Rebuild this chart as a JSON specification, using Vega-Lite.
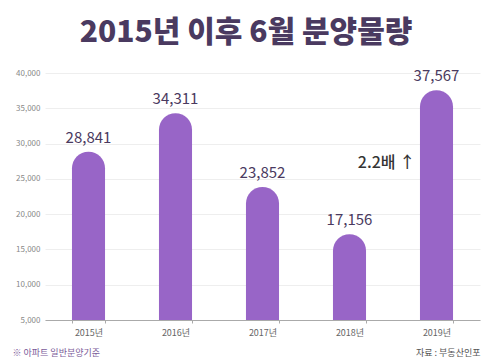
{
  "$schema": "https://vega.github.io/schema/vega-lite/v6.json",
  "autosize": "none",
  "width": 435,
  "height": 247,
  "padding": {"left": 45, "top": 73, "right": 20, "bottom": 43},
  "background": "white",
  "title": {
    "text": "2015년 이후 6월 분양물량",
    "font": "Noto Sans CJK KR",
    "fontSize": 30,
    "fontWeight": 900,
    "color": "#4a3a60",
    "anchor": "middle",
    "frame": "bounds",
    "offset": 21
  },
  "config": {
    "view": {"stroke": null},
    "font": "Noto Sans CJK KR"
  },
  "data": {
    "values": [
      {"year": "2015년", "v": 28841},
      {"year": "2016년", "v": 34311},
      {"year": "2017년", "v": 23852},
      {"year": "2018년", "v": 17156},
      {"year": "2019년", "v": 37567}
    ]
  },
  "encoding": {
    "x": {
      "field": "year",
      "type": "nominal",
      "sort": null,
      "scale": {"paddingInner": 0.62, "paddingOuter": 0.31},
      "axis": {
        "title": "※ 아파트 일반분양기준",
        "titleX": -33,
        "titleY": 32,
        "titleAlign": "left",
        "titleAnchor": "start",
        "titleBaseline": "middle",
        "titleFontSize": 9,
        "titleFontWeight": "normal",
        "titleColor": "#7a5b99",
        "labelAngle": 0,
        "labelFontSize": 9,
        "labelColor": "#666666",
        "labelPadding": 5,
        "domainColor": "#aaaaaa",
        "tickColor": "#aaaaaa",
        "tickSize": 3,
        "tickBand": "extent"
      }
    },
    "y": {
      "field": "v",
      "type": "quantitative",
      "scale": {"domain": [5000, 40000], "zero": false, "nice": false},
      "axis": {
        "values": [5000, 10000, 15000, 20000, 25000, 30000, 35000, 40000],
        "tickCount": 8,
        "format": ",d",
        "labelOverlap": false,
        "labelFontSize": 8,
        "labelColor": "#888888",
        "labelPadding": 5,
        "domain": false,
        "ticks": false,
        "gridColor": "#eeeeee",
        "title": "자료 : 부동산인포",
        "titleAngle": 0,
        "titleX": 435,
        "titleY": 279,
        "titleAlign": "right",
        "titleBaseline": "middle",
        "titleFontSize": 9,
        "titleFontWeight": "normal",
        "titleColor": "#555555"
      }
    }
  },
  "layer": [
    {
      "mark": {"type": "bar", "color": "#9865c7", "cornerRadiusTopLeft": 16.5, "cornerRadiusTopRight": 16.5},
      "encoding": {
        "y2": {"datum": 5000}
      }
    },
    {
      "mark": {"type": "text", "dy": -14, "fontSize": 15, "color": "#4a3a60", "baseline": "middle"},
      "encoding": {
        "text": {"field": "v", "type": "quantitative", "format": ",d"}
      }
    },
    {
      "data": {"values": [{"year": "2019년", "v": 27200, "label": "2.2배 ↑"}]},
      "mark": {"type": "text", "dx": -50, "fontSize": 16, "fontWeight": 500, "color": "#333333", "baseline": "middle"},
      "encoding": {
        "text": {"field": "label"}
      }
    }
  ]
}
